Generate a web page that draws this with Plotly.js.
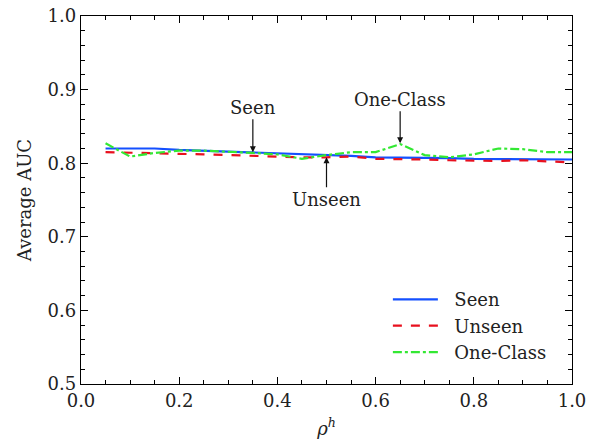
<!DOCTYPE html>
<html><head><meta charset="utf-8">
<script src="https://cdn.plot.ly/plotly-3.0.1.min.js"></script>
<style>body{margin:0}#c{width:595px;height:445px}</style>
</head><body><div id="c"></div>
<script>
const rho = [0.05,0.10,0.15,0.20,0.25,0.30,0.35,0.40,0.45,0.50,0.55,0.60,0.65,0.70,0.75,0.80,0.85,0.90,0.95,1.00];
const seen = [0.820,0.820,0.820,0.818,0.817,0.816,0.815,0.813,0.812,0.811,0.810,0.808,0.808,0.807,0.807,0.806,0.806,0.806,0.806,0.805];
const unseen = [0.815,0.814,0.813,0.812,0.812,0.811,0.810,0.808,0.808,0.808,0.809,0.806,0.806,0.805,0.804,0.803,0.803,0.804,0.803,0.801];
const oneClass = [0.827,0.809,0.814,0.817,0.817,0.816,0.814,0.812,0.806,0.811,0.815,0.815,0.826,0.811,0.808,0.812,0.820,0.819,0.815,0.815];
const names = ['Seen','Unseen','One-Class'];
const font = {family:'DejaVu Serif', size:18, color:'#222'};
const pad = '\u00a0\u00a0';
const traces = [
 {x:rho,y:seen,name:pad+names[0],mode:'lines',line:{color:'#1450ff',width:2.2}},
 {x:rho,y:unseen,name:pad+names[1],mode:'lines',line:{color:'#e8101e',width:2.2,dash:'dash'}},
 {x:rho,y:oneClass,name:pad+names[2],mode:'lines',line:{color:'#33e833',width:2.2,dash:'dashdot'}}
];
const ax = {showgrid:false,zeroline:false,showline:true,linecolor:'#000',linewidth:1.2,mirror:'ticks',ticks:'inside',ticklen:7,tickcolor:'#000',tickwidth:1,tickfont:font};
const layout = {
 width:595,height:445,margin:{l:81,r:23,t:16,b:61},
 paper_bgcolor:'#fff',plot_bgcolor:'#fff',font:font,showlegend:true,
 xaxis:Object.assign({},ax,{range:[0,1],dtick:0.2,tickformat:'.1f',minor:{dtick:0.05,ticks:'inside',ticklen:4,tickcolor:'#000'},
   title:{text:'<i>ρ</i><sup><i>h</i></sup>',font:font,standoff:12}}),
 yaxis:Object.assign({},ax,{range:[0.5,1],dtick:0.1,tickformat:'.1f',minor:{dtick:0.02,ticks:'inside',ticklen:4,tickcolor:'#000'},
   title:{text:'Average AUC',font:font,standoff:11}}),
 legend:{x:0.625,y:0.035,xanchor:'left',yanchor:'bottom',bgcolor:'rgba(0,0,0,0)',font:font,tracegroupgap:0,itemwidth:45},
 annotations:[
  {x:0.35,y:0.815,text:names[0],ax:0,ay:-45,showarrow:true,arrowhead:2,arrowwidth:1.2,arrowsize:1,arrowcolor:'#111',font:font},
  {x:0.65,y:0.827,text:names[2],ax:0,ay:-44,showarrow:true,arrowhead:2,arrowwidth:1.2,arrowsize:1,arrowcolor:'#111',font:font},
  {x:0.5,y:0.808,text:names[1],ax:0,ay:42,showarrow:true,arrowhead:2,arrowwidth:1.2,arrowsize:1,arrowcolor:'#111',font:font}
 ]
};
Plotly.newPlot('c',traces,layout,{displayModeBar:false,staticPlot:true});
</script></body></html>
